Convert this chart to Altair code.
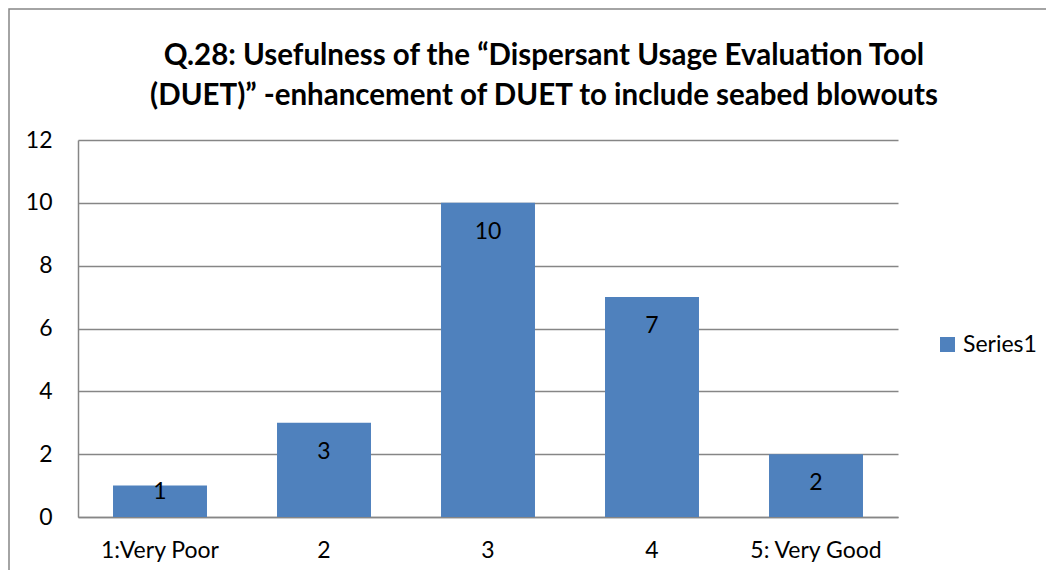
import altair as alt
import pandas as pd

categories = ["1:Very Poor", "2", "3", "4", "5: Very Good"]
values = [1, 3, 10, 7, 2]
series_name = "Series1"
y_ticks = [0, 2, 4, 6, 8, 10, 12]
title_lines = [
    "Q.28: Usefulness of the \u201cDispersant Usage Evaluation Tool",
    "(DUET)\u201d -enhancement of DUET to include seabed blowouts",
]

df = pd.DataFrame({"category": categories, "value": values, "series": [series_name] * len(values)})

FONT = "Lato"
GRID = "#868686"
BAR = "#4F81BD"
FS = 23

x_enc = alt.X(
    "category:N",
    sort=categories,
    scale=alt.Scale(paddingInner=0.427, paddingOuter=0.2135),
    axis=alt.Axis(
        title=None, labelAngle=0, labelFontSize=FS, labelFont=FONT, labelColor="#000000",
        labelPadding=22, ticks=False, domainColor=GRID, domainWidth=1.5,
    ),
)
y_enc = alt.Y(
    "value:Q",
    scale=alt.Scale(domain=[0, 12], nice=False),
    axis=alt.Axis(
        title=None, values=y_ticks, labelFontSize=FS, labelFont=FONT, labelColor="#000000",
        labelPadding=26, ticks=False, domainColor=GRID, domainWidth=1.5,
        grid=True, gridColor=GRID, gridWidth=1.5,
    ),
)

base = alt.Chart(df)

bars = base.mark_bar(color=BAR).encode(
    x=x_enc,
    y=y_enc,
    color=alt.Color(
        "series:N",
        scale=alt.Scale(range=[BAR]),
        legend=alt.Legend(
            title=None, orient="none", legendX=858, legendY=193,
            symbolType="square", symbolSize=225, symbolStrokeWidth=0,
            labelFontSize=23, labelFont=FONT, labelColor="#000000",
        ),
    ),
)

labels = base.transform_calculate(
    ly="max(datum.value - 0.92, 0.8)"
).mark_text(fontSize=FS, font=FONT, color="#000000", baseline="middle").encode(
    x=alt.X("category:N", sort=categories),
    y=alt.Y("ly:Q"),
    text=alt.Text("value:Q"),
)

border = alt.Chart(pd.DataFrame({"b": [0]})).mark_rect(
    fill="transparent", stroke=GRID, strokeWidth=1.5
).encode(
    x=alt.value(-69), x2=alt.value(3000), y=alt.value(-131), y2=alt.value(3000)
)

chart = alt.layer(border, bars, labels).properties(
    width=820,
    height=377,
    autosize=alt.AutoSizeParams(type="none"),
    padding={"left": 70, "top": 132, "right": 148, "bottom": 53},
    title=alt.TitleParams(
        text=title_lines, fontSize=29.5, font=FONT, fontWeight="bold", color="#000000",
        anchor="middle", frame="group", dx=56, dy=115, lineHeight=40, offset=12,
    ),
).configure_view(stroke=None)

chart.save("out.html", embed_options={"renderer": "svg", "actions": False})
